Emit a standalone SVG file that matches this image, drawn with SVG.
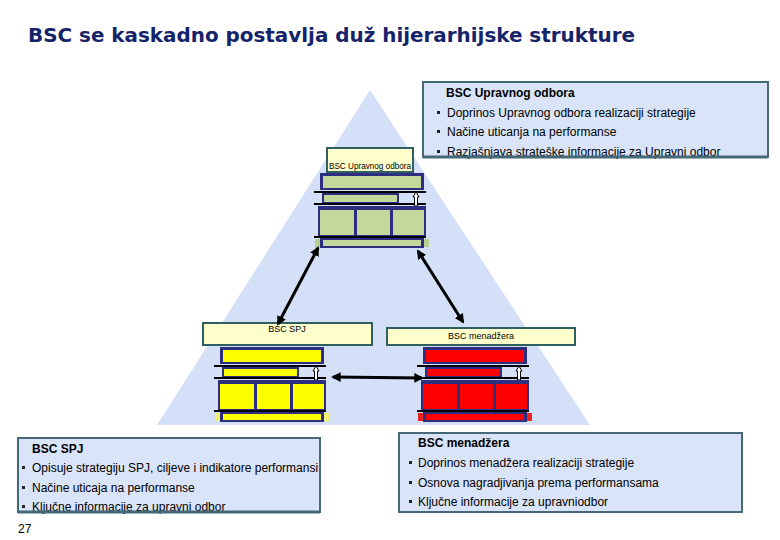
<svg xmlns="http://www.w3.org/2000/svg" width="780" height="540" viewBox="0 0 780 540">
<defs>
<style>
.t{font-family:"Liberation Sans",Arial,sans-serif;fill:#000}
.b{font-size:12px}
.h{font-size:12px;font-weight:bold}
.lbl{font-size:9px}
.frame{fill:#2e2e80}
.g{fill:#c4d89c}
.y{fill:#ffff00}
.r{fill:#ff0000}
.gl{fill:#b5cf8e}
.yl{fill:#f0f070}
.rl{fill:#ee2222}
.sep{stroke:#000;stroke-width:2}
.lab{fill:#ffffcc;stroke:#2f5f5f;stroke-width:2}
.info{fill:none;stroke:#46697a;stroke-width:2}
.bg{fill:#d9e4f8}
.bul{fill:#222}
.con{stroke:#000;stroke-width:3;fill:none}
</style>
<marker id="ah" viewBox="0 0 10 10" refX="8" refY="5" markerWidth="3.2" markerHeight="3.2" orient="auto-start-reverse" markerUnits="strokeWidth">
<path d="M0,0 L10,5 L0,10 Z" fill="#000"/>
</marker>
</defs>
<rect width="780" height="540" fill="#fff"/>
<text x="28" y="42" font-family="DejaVu Sans Condensed,DejaVu Sans,sans-serif" font-weight="bold" font-size="19" fill="#15246a" textLength="607" lengthAdjust="spacingAndGlyphs">BSC se kaskadno postavlja duž hijerarhijske strukture</text>
<polygon id="pyramid" points="370,90 590,425 157,425" fill="#d4e0f7"/>

<g id="box-board">
<rect class="bg" x="423" y="82" width="345" height="75"/>
<text class="t h" x="446" y="97">BSC Upravnog odbora</text>
<rect class="bul" x="437" y="111" width="3" height="3"/>
<text class="t b" x="447" y="117">Doprinos Upravnog odbora realizaciji strategije</text>
<rect class="bul" x="437" y="130" width="3" height="3"/>
<text class="t b" x="447" y="136">Načine uticanja na performanse</text>
<rect class="bul" x="437" y="150" width="3" height="3"/>
<text class="t b" x="447" y="156">Razjašnjava strateške informacije za Upravni odbor</text>
<rect class="info" x="423" y="82" width="345" height="75"/>
<line x1="423" y1="157" x2="768" y2="157" stroke="#46697a" stroke-width="3"/>
</g>

<g id="bsc-board">
<rect class="lab" x="327" y="148" width="86" height="24"/>
<text class="t" x="329" y="169" font-size="9.5" textLength="82" lengthAdjust="spacingAndGlyphs">BSC Upravnog odbora</text>
<g transform="translate(320,173)">
<rect class="gl" x="-5" y="66" width="5" height="8"/><rect class="gl" x="104" y="66" width="5" height="8"/>
<rect class="frame" x="0" y="0" width="104" height="17"/><rect class="g" x="3" y="3" width="98" height="12"/>
<line class="sep" x1="-6" y1="19" x2="106" y2="19"/>
<rect class="frame" x="2" y="20" width="77" height="11"/><rect class="g" x="4" y="22" width="73" height="7"/>
<line class="sep" x1="-6" y1="31" x2="106" y2="31"/>
<path d="M94.5,33 L94.5,24 L93,24 L96,19 L99,24 L97.5,24 L97.5,33 Z" fill="#fff" stroke="#000" stroke-width="1"/>
<rect class="frame" x="-2" y="33" width="108" height="31"/>
<rect class="g" x="0" y="37" width="34" height="25"/><rect class="g" x="37" y="37" width="33" height="25"/><rect class="g" x="73" y="37" width="31" height="25"/>
<line class="sep" x1="-6" y1="64" x2="106" y2="64"/>
<rect class="frame" x="0" y="65" width="104" height="10"/><rect class="g" x="3" y="67" width="98" height="6"/>
</g>
</g>

<g id="bsc-spj">
<rect class="lab" x="203" y="323" width="169" height="22"/>
<text class="t lbl" x="287" y="332" text-anchor="middle">BSC SPJ</text>
<g transform="translate(220,347)">
<rect class="yl" x="-5" y="66" width="5" height="8"/><rect class="yl" x="104" y="66" width="5" height="8"/>
<rect class="frame" x="0" y="0" width="104" height="17"/><rect class="y" x="3" y="3" width="98" height="12"/>
<line class="sep" x1="-6" y1="19" x2="106" y2="19"/>
<rect class="frame" x="2" y="20" width="77" height="11"/><rect class="y" x="4" y="22" width="73" height="7"/>
<line class="sep" x1="-6" y1="31" x2="106" y2="31"/>
<path d="M94.5,33 L94.5,24 L93,24 L96,19 L99,24 L97.5,24 L97.5,33 Z" fill="#fff" stroke="#000" stroke-width="1"/>
<rect class="frame" x="-2" y="33" width="108" height="31"/>
<rect class="y" x="0" y="37" width="34" height="25"/><rect class="y" x="37" y="37" width="33" height="25"/><rect class="y" x="73" y="37" width="31" height="25"/>
<line class="sep" x1="-6" y1="64" x2="106" y2="64"/>
<rect class="frame" x="0" y="65" width="104" height="10"/><rect class="y" x="3" y="67" width="98" height="6"/>
</g>
</g>

<g id="bsc-man">
<rect class="lab" x="387" y="328" width="188" height="17"/>
<text class="t lbl" x="481" y="339" text-anchor="middle">BSC menadžera</text>
<g transform="translate(423,347)">
<rect class="rl" x="-5" y="66" width="5" height="8"/><rect class="rl" x="104" y="66" width="5" height="8"/>
<rect class="frame" x="0" y="0" width="104" height="17"/><rect class="r" x="3" y="3" width="98" height="12"/>
<line class="sep" x1="-6" y1="19" x2="106" y2="19"/>
<rect class="frame" x="2" y="20" width="77" height="11"/><rect class="r" x="4" y="22" width="73" height="7"/>
<line class="sep" x1="-6" y1="31" x2="106" y2="31"/>
<path d="M94.5,33 L94.5,24 L93,24 L96,19 L99,24 L97.5,24 L97.5,33 Z" fill="#fff" stroke="#000" stroke-width="1"/>
<rect class="frame" x="-2" y="33" width="108" height="31"/>
<rect class="r" x="0" y="37" width="34" height="25"/><rect class="r" x="37" y="37" width="33" height="25"/><rect class="r" x="73" y="37" width="31" height="25"/>
<line class="sep" x1="-6" y1="64" x2="106" y2="64"/>
<rect class="frame" x="0" y="65" width="104" height="10"/><rect class="r" x="3" y="67" width="98" height="6"/>
</g>
</g>

<g id="connectors">
<line class="con" x1="318" y1="248" x2="278" y2="324" marker-start="url(#ah)" marker-end="url(#ah)"/>
<line class="con" x1="418" y1="251" x2="463" y2="322" marker-start="url(#ah)" marker-end="url(#ah)"/>
<line class="con" x1="333" y1="377" x2="422" y2="378" marker-start="url(#ah)" marker-end="url(#ah)"/>
</g>

<g id="box-spj">
<rect class="bg" x="18" y="438" width="302" height="74"/>
<text class="t h" x="32" y="453">BSC SPJ</text>
<rect class="bul" x="22" y="466" width="3" height="3"/>
<text class="t b" x="32" y="472">Opisuje strategiju SPJ, ciljeve i indikatore performansi</text>
<rect class="bul" x="22" y="486" width="3" height="3"/>
<text class="t b" x="32" y="492">Načine uticaja na performanse</text>
<rect class="bul" x="22" y="505" width="3" height="3"/>
<text class="t b" x="32" y="511">Ključne informacije za upravni odbor</text>
<rect class="info" x="18" y="438" width="302" height="74"/>
<line x1="18" y1="512" x2="320" y2="512" stroke="#46697a" stroke-width="3"/>
</g>

<g id="box-man">
<rect class="bg" x="399" y="433" width="343" height="79"/>
<text class="t h" x="418" y="447">BSC menadžera</text>
<rect class="bul" x="409" y="461" width="3" height="3"/>
<text class="t b" x="418" y="467">Doprinos menadžera realizaciji strategije</text>
<rect class="bul" x="409" y="481" width="3" height="3"/>
<text class="t b" x="418" y="487">Osnova nagradjivanja prema performansama</text>
<rect class="bul" x="409" y="500" width="3" height="3"/>
<text class="t b" x="418" y="506">Ključne informacije za upravniodbor</text>
<rect class="info" x="399" y="433" width="343" height="79"/>
</g>

<text class="t" x="18" y="533" font-size="12">27</text>
</svg>
